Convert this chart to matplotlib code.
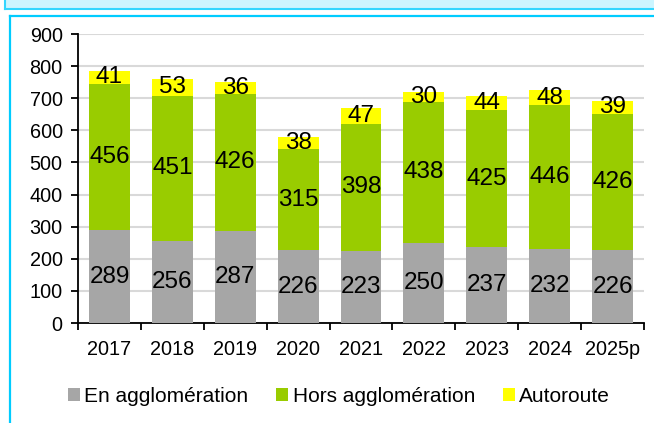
import matplotlib
matplotlib.use("Agg")
import matplotlib.pyplot as plt
from matplotlib.patches import Rectangle, Patch
from matplotlib.lines import Line2D
import numpy as np

plt.rcParams["font.family"] = ["Liberation Sans", "DejaVu Sans"]

years = ["2017", "2018", "2019", "2020", "2021", "2022", "2023", "2024", "2025p"]
en_agglo = [289, 256, 287, 226, 223, 250, 237, 232, 226]
hors_agglo = [456, 451, 426, 315, 398, 438, 425, 446, 426]
autoroute = [41, 53, 36, 38, 47, 30, 44, 48, 39]

series = [
    ("En agglomération", en_agglo, "#a6a6a6"),
    ("Hors agglomération", hors_agglo, "#99cc00"),
    ("Autoroute", autoroute, "#ffff00"),
]

W, H = 654, 423
fig = plt.figure(figsize=(W / 100, H / 100), dpi=100)

# frame decorations (title band cut off at the top + chart box border)
cyan = "#00ccff"
fig.patches.append(Rectangle((5 / W, 1 - 9 / H), 1, 9 / H, transform=fig.transFigure,
                             facecolor="#ccf5ff", edgecolor="none", zorder=0))
fig.add_artist(Line2D([5 / W, 1], [1 - 9 / H, 1 - 9 / H], color="#33d6ff", lw=1.5,
                      transform=fig.transFigure))
fig.add_artist(Line2D([5.5 / W, 5.5 / W], [1 - 9 / H, 1], color="#33d6ff", lw=1.5,
                      transform=fig.transFigure))
fig.add_artist(Line2D([10 / W, 1], [1 - 16 / H, 1 - 16 / H], color=cyan, lw=1.6,
                      transform=fig.transFigure))
fig.add_artist(Line2D([10 / W, 10 / W], [0, 1 - 16 / H], color=cyan, lw=1.6,
                      transform=fig.transFigure))

ax = fig.add_axes([78 / W, 1 - 323 / H, (644 - 78) / W, (323 - 34) / H])

x = np.arange(len(years))
bottom = np.zeros(len(years))
for name, vals, col in series:
    vals = np.array(vals, dtype=float)
    ax.bar(x, vals, 0.65, bottom=bottom, color=col, label=name, zorder=3)
    for xi, b, v in zip(x, bottom, vals):
        ax.text(xi, b + v / 2, f"{int(v)}", ha="center", va="center",
                fontsize=17.5, color="black", zorder=4)
    bottom += vals

ax.set_xlim(-0.5, len(years) - 0.5)
ax.set_ylim(0, 900)
ax.set_yticks(range(0, 901, 100))
ax.yaxis.grid(True, color="#d9d9d9", lw=1.5, zorder=0)
ax.set_axisbelow(True)

ax.set_xticks(x)
ax.set_xticklabels(years)
ax.set_xticks(np.arange(-0.5, len(years)), minor=True)
ax.tick_params(axis="x", which="major", length=0, pad=12, labelsize=14.3)
ax.tick_params(axis="x", which="minor", length=5, width=1.3, direction="out")
ax.tick_params(axis="y", length=5, width=1.3, direction="out", labelsize=14.3, pad=6)

for s in ("top", "right"):
    ax.spines[s].set_visible(False)
for s in ("left", "bottom"):
    ax.spines[s].set_linewidth(1.3)
    ax.spines[s].set_color("black")

handles = [Patch(facecolor=c, edgecolor="none") for _, _, c in series]
labels = [n for n, _, _ in series]
fig.legend(handles, labels, loc="center", bbox_to_anchor=(339 / W, 1 - 396 / H),
           ncol=3, frameon=False, fontsize=15, handlelength=0.58, handleheight=0.58,
           handletextpad=0.2, columnspacing=1.35)

fig.savefig("out.png", dpi=100)
